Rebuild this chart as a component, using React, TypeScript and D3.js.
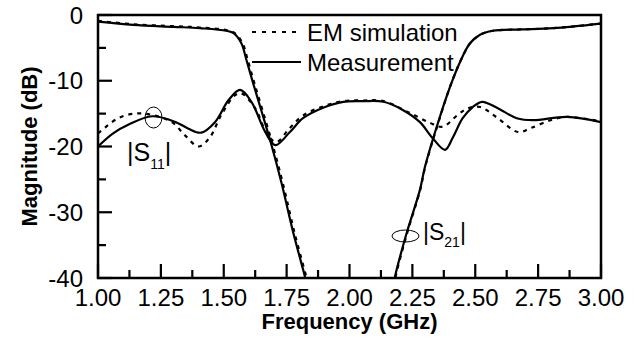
import React from "react";
import * as d3 from "d3";

const xTicks = [1.0, 1.25, 1.5, 1.75, 2.0, 2.25, 2.5, 2.75, 3.0];
const xMinor = [1.125, 1.375, 1.625, 1.875, 2.125, 2.375, 2.625, 2.875];
const yTicks = [0, -10, -20, -30, -40];
const yMinor = [-5, -15, -25, -35];

// |S21| measurement
const s21MeasF = [1.0, 1.14, 1.3, 1.405, 1.51, 1.54, 1.57, 1.59, 1.617, 1.65, 1.69, 1.73, 1.777, 1.823, 1.84, 2.17, 2.181, 2.227, 2.28, 2.3, 2.347, 2.4, 2.44, 2.479, 2.519, 2.57, 2.68, 2.81, 3.0];
const s21MeasDb = [-1.0, -1.5, -1.8, -2.0, -2.4, -2.8, -4.3, -6.8, -10.4, -14.6, -19.8, -25.6, -33.2, -39.8, -42.5, -42.5, -39.8, -33.2, -26.6, -23.1, -17.0, -10.9, -7.1, -4.3, -3.0, -2.4, -2.2, -2.0, -1.3];
// |S21| EM simulation
const s21SimF = [1.0, 1.14, 1.3, 1.405, 1.51, 1.545, 1.575, 1.595, 1.622, 1.655, 1.695, 1.735, 1.782, 1.828, 1.845, 2.17, 2.183, 2.229, 2.281, 2.301, 2.348, 2.4, 2.44, 2.48, 2.52, 2.57, 2.68, 2.81, 3.0];
const s21SimDb = [-0.9, -1.4, -1.7, -1.9, -2.3, -2.8, -4.3, -6.8, -10.4, -14.6, -19.8, -25.6, -33.2, -39.8, -42.5, -42.5, -39.8, -33.2, -26.6, -23.1, -17.0, -10.9, -7.1, -4.3, -3.0, -2.4, -2.2, -2.0, -1.3];

// |S11| measurement
const s11MeasF = [1.0, 1.06, 1.12, 1.215, 1.31, 1.36, 1.41, 1.465, 1.52, 1.565, 1.61, 1.665, 1.705, 1.763, 1.815, 1.895, 1.975, 2.055, 2.135, 2.21, 2.28, 2.33, 2.38, 2.41, 2.45, 2.49, 2.527, 2.586, 2.665, 2.73, 2.865, 3.0];
const s11MeasDb = [-20.0, -18.0, -16.7, -15.4, -16.3, -17.3, -17.9, -16.3, -12.9, -11.4, -13.2, -17.8, -19.8, -17.8, -15.7, -14.1, -13.2, -13.1, -13.2, -14.4, -16.3, -18.7, -20.5, -18.7, -15.7, -14.0, -13.2, -14.1, -15.7, -16.0, -15.5, -16.3];
// |S11| EM simulation
const s11SimF = [1.0, 1.016, 1.08, 1.147, 1.215, 1.294, 1.346, 1.4, 1.445, 1.49, 1.545, 1.57, 1.625, 1.675, 1.71, 1.76, 1.815, 1.895, 1.975, 2.055, 2.135, 2.24, 2.32, 2.37, 2.43, 2.47, 2.52, 2.59, 2.67, 2.72, 2.8, 2.865, 3.0];
const s11SimDb = [-18.0, -17.5, -15.7, -15.0, -15.2, -16.3, -18.3, -20.0, -18.6, -15.2, -12.2, -11.9, -14.2, -18.3, -19.3, -17.3, -15.3, -13.9, -13.1, -13.0, -13.1, -14.9, -16.4, -17.0, -15.2, -14.2, -14.0, -15.7, -17.8, -17.2, -16.0, -15.5, -16.2];

const FONT = "'Liberation Sans', Arial, sans-serif";

export default function App() {
  const W = 639, H = 341;
  const L = 98, R = 601, T = 15, B = 278;
  const x = d3.scaleLinear().domain([1, 3]).range([L, R]);
  const y = d3.scaleLinear().domain([0, -40]).range([T, B]);
  const line = d3
    .line<[number, number]>()
    .x((d) => x(d[0]))
    .y((d) => y(d[1]))
    .curve(d3.curveCatmullRom.alpha(0.5));
  const zip = (a: number[], b: number[]) => a.map((v, i) => [v, b[i]] as [number, number]);

  const series = [
    { d: zip(s21SimF, s21SimDb), dash: "4,5" },
    { d: zip(s11SimF, s11SimDb), dash: "4,5" },
    { d: zip(s21MeasF, s21MeasDb), dash: null },
    { d: zip(s11MeasF, s11MeasDb), dash: null },
  ];

  return (
    <svg width={W} height={H} style={{ position: "absolute", left: 0, top: 0, background: "#fff" }} fontFamily={FONT}>
      <defs>
        <clipPath id="plotclip">
          <rect x={L} y={T} width={R - L} height={B - T} />
        </clipPath>
      </defs>
      <g clipPath="url(#plotclip)">
        {series.map((s, i) => (
          <path key={i} d={line(s.d) || ""} fill="none" stroke="#000" strokeWidth={2.2} strokeDasharray={s.dash || undefined} />
        ))}
      </g>
      {/* frame */}
      <rect x={L} y={T} width={R - L} height={B - T} fill="none" stroke="#000" strokeWidth={2.5} />
      {/* x ticks */}
      {xTicks.map((t) => (
        <g key={"xt" + t}>
          <line x1={x(t)} x2={x(t)} y1={B} y2={B - 14} stroke="#000" strokeWidth={2.2} />
          <text x={x(t)} y={306} textAnchor="middle" fontSize={24}>
            {t.toFixed(2)}
          </text>
        </g>
      ))}
      {xMinor.map((t) => (
        <line key={"xm" + t} x1={x(t)} x2={x(t)} y1={B} y2={B - 8} stroke="#000" strokeWidth={2.2} />
      ))}
      {yTicks.map((t) => (
        <g key={"yt" + t}>
          <line x1={L} x2={L + 14} y1={y(t)} y2={y(t)} stroke="#000" strokeWidth={2.2} />
          <text x={83} y={y(t) + 8.5} textAnchor="end" fontSize={24}>
            {t}
          </text>
        </g>
      ))}
      {yMinor.map((t) => (
        <line key={"ym" + t} x1={L} x2={L + 8} y1={y(t)} y2={y(t)} stroke="#000" strokeWidth={2.2} />
      ))}
      {/* axis titles */}
      <text x={(L + R) / 2} y={329} textAnchor="middle" fontSize={22} fontWeight="bold">
        Frequency (GHz)
      </text>
      <text transform={`translate(37,${(T + B) / 2}) rotate(-90)`} textAnchor="middle" fontSize={22} fontWeight="bold">
        Magnitude (dB)
      </text>
      {/* legend */}
      <line x1={252} x2={301} y1={32} y2={32} stroke="#000" strokeWidth={2.2} strokeDasharray="4,6" />
      <text x={307} y={41} fontSize={24}>EM simulation</text>
      <line x1={252} x2={301} y1={62} y2={62} stroke="#000" strokeWidth={2.2} />
      <text x={307} y={71} fontSize={24}>Measurement</text>
      {/* annotations */}
      <ellipse cx={153.5} cy={117.5} rx={8.5} ry={10.5} fill="none" stroke="#000" strokeWidth={1} />
      <text x={127} y={161} fontSize={25}>
        |S<tspan fontSize={14} dy={8}>11</tspan><tspan dy={-8}>|</tspan>
      </text>
      <ellipse cx={405.5} cy={236} rx={13.5} ry={6} fill="none" stroke="#000" strokeWidth={1} />
      <text x={423} y={240} fontSize={23}>
        |S<tspan fontSize={14} dy={7}>21</tspan><tspan dy={-7}>|</tspan>
      </text>
    </svg>
  );
}
